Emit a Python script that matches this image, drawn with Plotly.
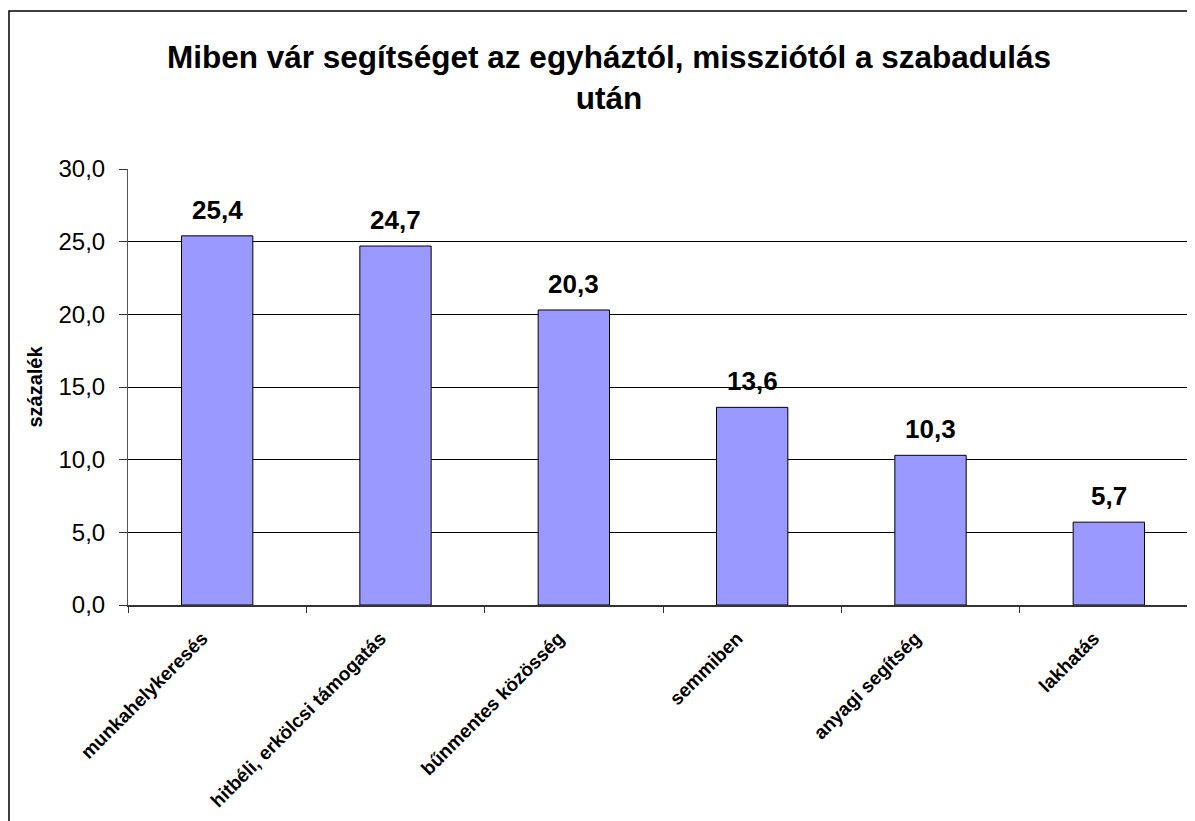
import plotly.graph_objects as go

categories = ["munkahelykeresés", "hitbéli, erkölcsi támogatás", "bűnmentes közösség",
              "semmiben", "anyagi segítség", "lakhatás"]
values = [25.4, 24.7, 20.3, 13.6, 10.3, 5.7]
y_ticks = [0, 5, 10, 15, 20, 25, 30]
title_text = "Miben vár segítséget az egyháztól, missziótól a szabadulás<br>után"
y_title = "százalék"

FONT = "Liberation Sans, Arial, sans-serif"
W, H = 1195, 821
# page body has an 8px margin, so figure coords = screen coords - 8
L, R, T, B = 120, 5, 161, 224

fig = go.Figure()
fig.add_trace(go.Bar(
    x=categories, y=values, width=0.4,
    marker=dict(color="#9999FF", line=dict(color="#000000", width=1)),
    hoverinfo="x+y",
))

for c, v in zip(categories, values):
    fig.add_annotation(x=c, y=v, xref="x", yref="y",
                       text="<b>" + f"{v:.1f}".replace(".", ",") + "</b>",
                       showarrow=False, yanchor="bottom", yshift=9,
                       font=dict(family=FONT, size=26, color="#000000"))

pw = W - L - R
ph = H - T - B
# chart-area border (Excel-style)
fig.add_shape(type="rect", xref="paper", yref="paper",
              x0=(1 - L) / pw, x1=(W + 20 - L) / pw,
              y0=(H - B - (H + 20)) / ph, y1=(H - B - 3) / ph,
              line=dict(color="#000000", width=1.5), fillcolor="rgba(0,0,0,0)", layer="above")

fig.update_layout(
    width=W, height=H,
    margin=dict(l=L, r=R, t=T, b=B, pad=0),
    paper_bgcolor="white", plot_bgcolor="white",
    separators=",.",
    showlegend=False,
    font=dict(family=FONT, color="#000000"),
    title=dict(text="<b>" + title_text + "</b>", x=601 / W, xanchor="center",
               y=1 - 60 / H, yanchor="top",
               font=dict(family=FONT, size=31.5, color="#000000")),
    xaxis=dict(
        type="category", range=[-0.5, 5.5],
        tickson="boundaries", ticks="outside", ticklen=6, tickcolor="#333333",
        tickangle=-45, ticklabelshift=-15, ticklabelstandoff=13,
        tickfont=dict(family=FONT, size=19, color="#000000", weight="bold"),
        showline=True, linecolor="#333333", linewidth=1.5,
        showgrid=False, zeroline=False,
    ),
    yaxis=dict(
        range=[0, 30], tickvals=y_ticks, tickformat=".1f",
        ticks="outside", ticklen=8, tickcolor="#333333",
        ticklabelstandoff=9,
        tickfont=dict(family=FONT, size=24, color="#000000"),
        showline=True, linecolor="#555555", linewidth=1,
        showgrid=True, gridcolor="#000000", gridwidth=1,
        zeroline=False,
        title=dict(text="<b>" + y_title + "</b>", standoff=10,
                   font=dict(family=FONT, size=20, color="#000000")),
    ),
)

fig.write_html("out.html")
